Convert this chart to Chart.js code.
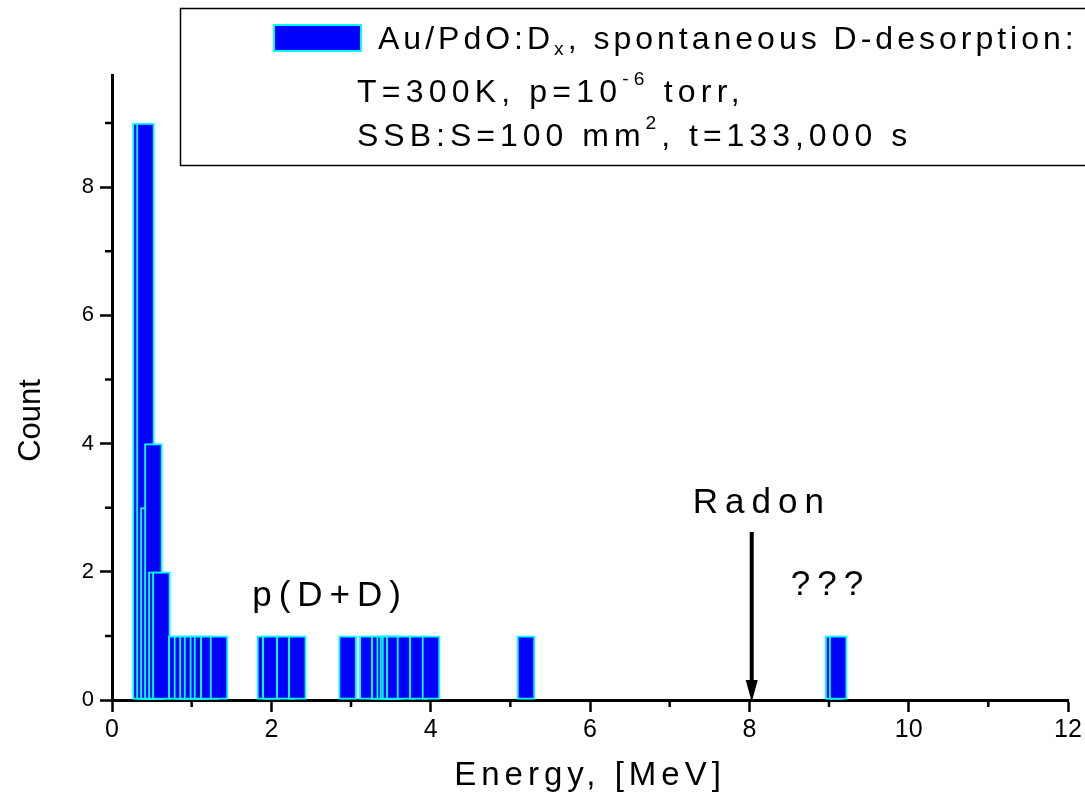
<!DOCTYPE html>
<html>
<head>
<meta charset="utf-8">
<title>Au/PdO:Dx spontaneous D-desorption</title>
<script src="https://cdn.jsdelivr.net/npm/chart.js@4.4.1/dist/chart.umd.min.js"></script>
<style>
  html, body { margin: 0; padding: 0; background: #fff; }
</style>
</head>
<body>
<canvas id="histo" width="1085" height="802"></canvas>
<script>
// bar centres in MeV and the counts
var energy = [0.37, 0.42, 0.47, 0.52, 0.57, 0.62,
              0.82, 0.89, 0.96, 1.017, 1.09, 1.142, 1.222, 1.343,
              1.933, 2.0, 2.176, 2.326,
              2.958, 3.218, 3.368, 3.435, 3.477, 3.502, 3.557, 3.69, 3.845, 4.004,
              5.197,
              9.065, 9.115];
var counts = [9, 9, 3, 4, 2, 2,
              1, 1, 1, 1, 1, 1, 1, 1,
              1, 1, 1, 1,
              1, 1, 1, 1, 1, 1, 1, 1, 1, 1,
              1,
              1, 1];

var xTicks = [0, 2, 4, 6, 8, 10, 12];
var xMinor = [1, 3, 5, 7, 9, 11];
var yTicks = [0, 2, 4, 6, 8];
var yMinor = [1, 3, 5, 7, 9];

// text notes placed in data units (MeV, count)
var noteText = ['p(D+D)', 'Radon', '???'];
var noteX = [2.70, 8.12, 8.98];
var noteY = [1.61, 3.07, 1.79];
var radonArrow = [8.03, 2.62, 0]; // x, from y, to y

var FONT = "'Liberation Sans', Arial, sans-serif";

var minorTicks = {
  id: 'minorTicks',
  afterDraw: function(chart) {
    var ctx = chart.ctx, x = chart.scales.x, y = chart.scales.y;
    ctx.save();
    ctx.strokeStyle = '#000';
    ctx.lineWidth = 2.5;
    ctx.beginPath();
    xMinor.forEach(function(v) {
      var px = x.getPixelForValue(v);
      ctx.moveTo(px, x.top); ctx.lineTo(px, x.top + 7);
    });
    yMinor.forEach(function(v) {
      var py = y.getPixelForValue(v);
      ctx.moveTo(y.right, py); ctx.lineTo(y.right - 7, py);
    });
    ctx.stroke();
    ctx.restore();
  }
};

var notes = {
  id: 'notes',
  afterDraw: function(chart) {
    var ctx = chart.ctx, x = chart.scales.x, y = chart.scales.y;
    ctx.save();
    ctx.fillStyle = '#000';
    ctx.font = '35px ' + FONT;
    ctx.letterSpacing = '7px';
    ctx.textAlign = 'center';
    ctx.textBaseline = 'middle';
    noteText.forEach(function(t, i) {
      ctx.fillText(t, x.getPixelForValue(noteX[i]) + 3, y.getPixelForValue(noteY[i]));
    });
    // radon arrow
    var ax = x.getPixelForValue(radonArrow[0]);
    var y0 = y.getPixelForValue(radonArrow[1]);
    var y1 = y.getPixelForValue(radonArrow[2]) + 2;
    ctx.strokeStyle = '#000';
    ctx.lineWidth = 4;
    ctx.beginPath();
    ctx.moveTo(ax, y0); ctx.lineTo(ax, y1 - 16);
    ctx.stroke();
    ctx.beginPath();
    ctx.moveTo(ax - 6, y1 - 22); ctx.lineTo(ax + 6, y1 - 22); ctx.lineTo(ax, y1);
    ctx.closePath();
    ctx.fill();
    ctx.restore();
  }
};

// legend box with sub/superscripts
var legendBox = {
  id: 'legendBox',
  afterDraw: function(chart) {
    var ctx = chart.ctx;
    ctx.save();
    ctx.strokeStyle = '#000';
    ctx.lineWidth = 1.5;
    ctx.strokeRect(180.5, 8.5, 1000, 157);
    ctx.fillStyle = '#00ffff';
    ctx.fillRect(273, 24, 89, 28);
    ctx.fillStyle = '#0000ff';
    ctx.fillRect(275, 26, 85, 24);

    var size = 32;
    function runs(parts, x, y, spacing) {
      ctx.letterSpacing = spacing + 'px';
      parts.forEach(function(p) {
        var small = p[1] !== 0;
        ctx.font = (small ? size * 0.6 : size) + 'px ' + FONT;
        var dy = p[1] > 0 ? -size * 0.4 : (p[1] < 0 ? size * 0.3 : 0);
        ctx.fillText(p[0], x, y + dy);
        x += ctx.measureText(p[0]).width;
      });
    }
    ctx.fillStyle = '#000';
    ctx.textBaseline = 'middle';
    runs([['Au/PdO:D', 0], ['x', -1], [', spontaneous D-desorption:', 0]], 378, 40, 4);
    runs([['T=300K, p=10', 0], ['-6', 1], [' torr,', 0]], 357, 93, 5.2);
    runs([['SSB:S=100 mm', 0], ['2', 1], [', t=133,000 s', 0]], 357, 137, 5);
    ctx.restore();
  }
};

var chart = new Chart(document.getElementById('histo'), {
  type: 'bar',
  data: {
    datasets: [{
      label: 'Au/PdO:Dx, spontaneous D-desorption',
      data: energy.map(function(e, i) { return {x: e, y: counts[i]}; }),
      backgroundColor: '#0000ff',
      borderColor: '#00ffff',
      borderWidth: 2,
      borderSkipped: false,
      barThickness: 18
    }]
  },
  options: {
    responsive: false,
    animation: false,
    layout: { padding: { top: 75, right: 17, left: 0, bottom: 0 } },
    plugins: { legend: { display: false }, tooltip: { enabled: false } },
    scales: {
      x: {
        type: 'linear', min: 0, max: 12, offset: false,
        afterBuildTicks: function(s) { s.ticks = xTicks.map(function(v) { return {value: v}; }); },
        afterFit: function(s) { s.height = 102; },
        border: { color: '#000', width: 3 },
        grid: { offset: false, drawOnChartArea: false, tickLength: 12, tickWidth: 2.5, tickColor: '#000' },
        ticks: { color: '#000', font: { family: FONT, size: 25 }, padding: 3, maxRotation: 0 },
        title: { display: true, text: 'Energy, [MeV]', color: '#000', font: { family: FONT, size: 33 }, padding: { bottom: 6 } }
      },
      y: {
        min: 0, max: 9.75,
        afterBuildTicks: function(s) { s.ticks = yTicks.map(function(v) { return {value: v}; }); },
        afterFit: function(s) { s.width = 112; },
        border: { color: '#000', width: 3 },
        grid: { drawOnChartArea: false, tickLength: 12, tickWidth: 2.5, tickColor: '#000' },
        ticks: { color: '#000', font: { family: FONT, size: 22 }, padding: 6 },
        title: { display: true, text: 'Count', color: '#000', font: { family: FONT, size: 31 }, padding: { top: 13 } }
      }
    }
  },
  plugins: [minorTicks, notes, legendBox, {
    // Origin-style titles: spaced x title, y title sits a bit low
    id: 'titleTweak',
    afterLayout: function(chart) {
      var sx = chart.scales.x, sy = chart.scales.y;
      if (sx._tweaked) return;
      var ox = sx.drawTitle, oy = sy.drawTitle;
      sx.drawTitle = function() {
        this.ctx.save();
        this.ctx.letterSpacing = '5px';
        ox.apply(this, arguments);
        this.ctx.restore();
      };
      sy.drawTitle = function() {
        this.ctx.save();
        this.ctx.translate(0, 33);
        oy.apply(this, arguments);
        this.ctx.restore();
      };
      sx._tweaked = true;
    }
  }]
});
</script>
</body>
</html>
